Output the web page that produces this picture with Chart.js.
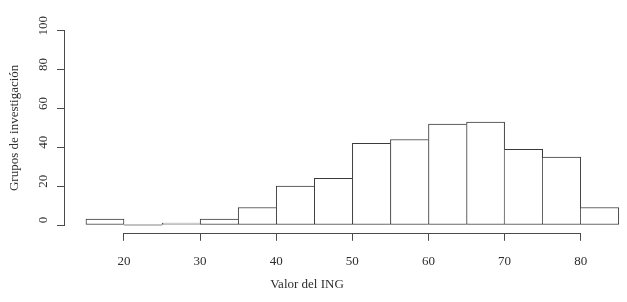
<!DOCTYPE html>
<html>
<head>
<meta charset="utf-8">
<script src="https://cdn.jsdelivr.net/npm/chart.js@4/dist/chart.umd.min.js"></script>
<style>
  html, body { margin: 0; padding: 0; background: #ffffff; }
  #wrap { position: relative; width: 627px; height: 302px; }
</style>
</head>
<body>
<div id="wrap"><canvas id="c"></canvas></div>
<script>
// Histogram bin edges (5-unit bins) and counts
const binEdges = [15, 20, 25, 30, 35, 40, 45, 50, 55, 60, 65, 70, 75, 80, 85];
const counts   = [3, 0, 1, 3, 9, 20, 24, 42, 44, 52, 53, 39, 35, 9];
const xTickValues = [20, 30, 40, 50, 60, 70, 80];
const xTickLabels = ['20', '30', '40', '50', '60', '70', '80'];
const yTickValues = [0, 20, 40, 60, 80, 100];
const yTickLabels = ['0', '20', '40', '60', '80', '100'];
const xTitle = 'Valor del ING';
const yTitle = 'Grupos de investigación';

const FONT = 'Liberation Serif, Times New Roman, serif';
const TEXT = '#2e2e2e';
const LINE = '#4a4a4a';

const points = counts.map((c, i) => ({ x: (binEdges[i] + binEdges[i + 1]) / 2, y: c }));

// R-style axis lines: only span the first to last tick
const rAxes = {
  id: 'rAxes',
  afterDraw(chart) {
    const { ctx, chartArea, scales } = chart;
    const xs = scales.x, ys = scales.y;
    ctx.save();
    ctx.strokeStyle = LINE;
    ctx.lineWidth = 1;
    ctx.beginPath();
    const yb = Math.round(chartArea.bottom) + 0.5;
    ctx.moveTo(xs.getPixelForValue(xTickValues[0]), yb);
    ctx.lineTo(xs.getPixelForValue(xTickValues[xTickValues.length - 1]), yb);
    const xl = Math.round(chartArea.left) - 0.5;
    ctx.moveTo(xl, ys.getPixelForValue(yTickValues[0]));
    ctx.lineTo(xl, ys.getPixelForValue(yTickValues[yTickValues.length - 1]));
    ctx.stroke();
    ctx.restore();
  }
};

const n = counts.length;
new Chart(document.getElementById('c'), {
  type: 'bar',
  data: {
    datasets: [{
      data: points,
      backgroundColor: '#ffffff',
      borderColor: '#3a3a3a',
      borderSkipped: false,
      minBarLength: 1,
      clip: false,
      barPercentage: 1,
      categoryPercentage: 1,
      borderWidth: (ctx) => {
        const i = ctx.dataIndex;
        const cur = counts[i];
        const left = (i === 0 || counts[i - 1] < cur) ? 1 : 0;
        const right = (i === n - 1 || counts[i + 1] <= cur) ? 1 : 0;
        return { top: 1, bottom: 1, left, right };
      }
    }]
  },
  options: {
    responsive: true,
    maintainAspectRatio: false,
    animation: false,
    devicePixelRatio: 1,
    layout: { padding: { top: 22.9, right: 13, bottom: 0, left: 0 } },
    plugins: {
      legend: { display: false },
      tooltip: { enabled: false },
      title: {
        display: true,
        position: 'bottom',
        text: xTitle,
        color: TEXT,
        font: { family: FONT, size: 13, weight: 'normal' },
        padding: { top: 0, bottom: 10 }
      }
    },
    scales: {
      x: {
        type: 'linear',
        min: 12.25,
        max: 84.37,
        offset: false,
        afterBuildTicks: (s) => { s.ticks = xTickValues.map(v => ({ value: v })); },
        afterFit: (s) => { s.height = 43.6; },
        border: { display: false },
        grid: { display: true, offset: false, drawOnChartArea: false, drawTicks: true, tickLength: 8, color: LINE, lineWidth: 1 },
        ticks: {
          autoSkip: false,
          maxRotation: 0,
          padding: 13,
          color: TEXT,
          font: { family: FONT, size: 13 },
          callback: (v, i) => xTickLabels[i]
        }
      },
      y: {
        type: 'linear',
        min: -4,
        max: 104,
        afterBuildTicks: (s) => { s.ticks = yTickValues.map(v => ({ value: v })); },
        afterFit: (s) => { s.width = 65; },
        border: { display: false },
        grid: { display: true, drawOnChartArea: false, drawTicks: true, tickLength: 8, color: LINE, lineWidth: 1 },
        title: {
          display: true,
          text: yTitle,
          color: TEXT,
          font: { family: FONT, size: 13 },
          padding: { top: 7, bottom: 0 }
        },
        ticks: {
          autoSkip: false,
          minRotation: 90,
          maxRotation: 90,
          crossAlign: 'center',
          padding: 4,
          labelOffset: -5,
          color: TEXT,
          font: { family: FONT, size: 13 },
          callback: (v, i) => yTickLabels[i]
        }
      }
    }
  },
  plugins: [rAxes]
});
</script>
</body>
</html>
